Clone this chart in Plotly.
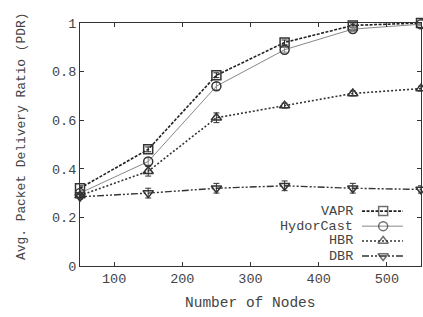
import plotly.graph_objects as go

nodes = [50, 150, 250, 350, 450, 550]
vapr = [0.32, 0.48, 0.785, 0.92, 0.99, 1.0]
hydorcast = [0.30, 0.43, 0.74, 0.89, 0.975, 0.995]
hbr = [0.29, 0.39, 0.61, 0.66, 0.71, 0.73]
dbr = [0.285, 0.30, 0.32, 0.33, 0.32, 0.315]
err_vapr = [0.01, 0.01, 0.01, 0.01, 0.01, 0.005]
err_hydor = [0.01, 0.015, 0.015, 0.01, 0.01, 0.005]
err_hbr = [0.01, 0.02, 0.02, 0.01, 0.01, 0.01]
err_dbr = [0.01, 0.02, 0.02, 0.02, 0.02, 0.015]
x_ticks = [100, 200, 300, 400, 500]
y_ticks = [0, 0.2, 0.4, 0.6, 0.8, 1]
y_ticktext = ["0", "0.2", "0.4", "0.6", "0.8", "1"]

series = [
    ("VAPR", vapr, err_vapr, "#222222", "3px,1.5px", "square-open", 1.6),
    ("HydorCast", hydorcast, err_hydor, "#888888", "solid", "circle-open", 1.0),
    ("HBR", hbr, err_hbr, "#333333", "2px,2px", "triangle-up-open", 1.6),
    ("DBR", dbr, err_dbr, "#333333", "7px,2px,2px,2px,2px,2px", "triangle-down-open", 1.4),
]

font = "Liberation Mono, Courier New, monospace"
txt = "#444444"
fig = go.Figure()
for name, ys, err, col, dash, sym, w in series:
    fig.add_trace(go.Scatter(
        x=nodes, y=ys, name=name, mode="lines+markers",
        line=dict(color=col, dash=dash, width=w),
        marker=dict(symbol=sym, size=9, color="#333333", line=dict(width=1.5, color="#333333")),
        error_y=dict(type="data", array=err, color=col, thickness=1, width=3),
        cliponaxis=False, showlegend=False,
    ))

# custom legend (text left of sample, like gnuplot)
leg_y = [0.226, 0.164, 0.103, 0.041]
annotations = []
for (name, ys, err, col, dash, sym, w), ly in zip(series, leg_y):
    fig.add_trace(go.Scatter(
        x=[0.827, 0.889, 0.947], y=[ly, ly, ly], mode="lines+markers",
        line=dict(color=col, dash=dash, width=w),
        marker=dict(symbol=sym, size=[0, 9, 0], color="#333333",
                    line=dict(width=1.5, color="#333333")),
        xaxis="x2", yaxis="y2", showlegend=False, hoverinfo="skip",
    ))
    annotations.append(dict(text=name, x=0.806, y=ly, xref="paper", yref="paper",
                            xanchor="right", yanchor="middle", showarrow=False,
                            font=dict(family=font, size=13.5, color=txt)))

annotations.append(dict(text="Number of Nodes", x=0.5, y=-0.152, xref="paper", yref="paper",
                        xanchor="center", yanchor="middle", showarrow=False,
                        font=dict(family=font, size=14.5, color=txt)))
annotations.append(dict(text="Avg. Packet Delivery Ratio (PDR)", x=-0.170, y=0.535,
                        xref="paper", yref="paper", textangle=-90,
                        xanchor="center", yanchor="middle", showarrow=False,
                        font=dict(family=font, size=12.9, color=txt)))

fig.update_layout(
    width=423, height=317,
    margin=dict(l=80, r=2, t=23, b=51, autoexpand=False),
    paper_bgcolor="white", plot_bgcolor="white",
    font=dict(family=font, size=13.5, color=txt),
    showlegend=False,
    annotations=annotations,
    xaxis=dict(range=[50, 550], tickvals=x_ticks,
               showgrid=False, zeroline=False, showline=True, linecolor="#333333",
               linewidth=1, mirror="ticks", ticks="inside", ticklen=4,
               tickcolor="#333333", automargin=False),
    yaxis=dict(range=[0, 1], tickvals=y_ticks, ticktext=y_ticktext,
               showgrid=False, zeroline=False, showline=True, linecolor="#333333",
               linewidth=1, mirror="ticks", ticks="inside", ticklen=4,
               tickcolor="#333333", automargin=False),
    xaxis2=dict(range=[0, 1], overlaying="x", visible=False, fixedrange=True),
    yaxis2=dict(range=[0, 1], overlaying="y", visible=False, fixedrange=True),
)
fig.write_html(
    "out.html",
    config={"displayModeBar": False},
    post_script="document.body.style.margin='0';"
                "document.documentElement.style.overflow='hidden';",
)
